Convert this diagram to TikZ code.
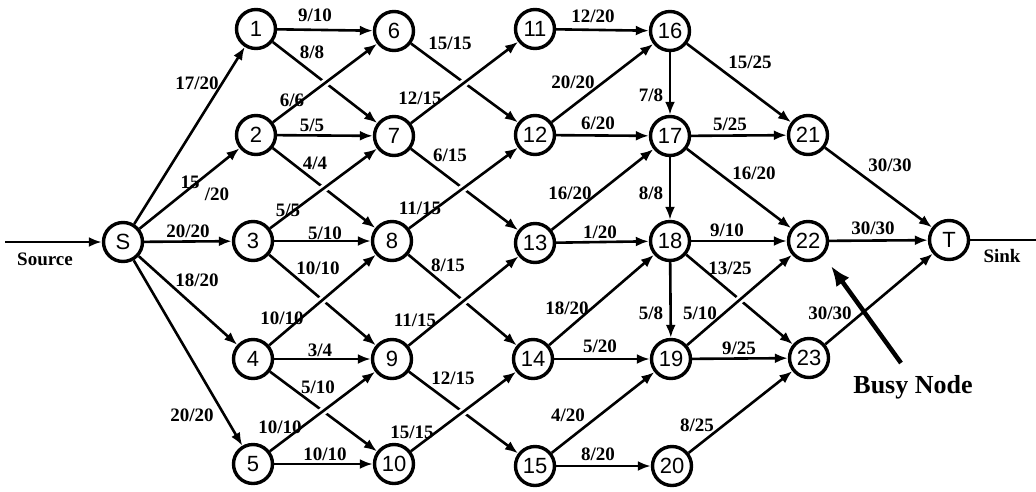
\documentclass[tikz,border=0pt]{standalone}
\usepackage{fontspec}
\setmainfont{Liberation Serif}
\setsansfont{Liberation Sans}
\usetikzlibrary{arrows.meta}

\tikzset{
  vtx/.style={circle, draw, line width=3.4pt, minimum size=39pt, inner sep=0pt,
    font=\sffamily\fontsize{22}{22}\selectfont},
  edge/.style={line width=2.6pt, -{Latex[length=13pt,width=10pt]}},
  over/.style={preaction={draw=white, line width=8pt, -, shorten <=16pt, shorten >=16pt}},
  flow/.style={font=\bfseries\fontsize{19}{19}\selectfont, inner sep=0pt},
}

\begin{document}
\begin{tikzpicture}[x=1pt, y=-1pt]
\useasboundingbox (0,0) rectangle (1036,491);
% vertices
\node[vtx] (s) at (123,242) {S};
\node[vtx] (n1) at (256,29) {1};
\node[vtx] (n2) at (256,135) {2};
\node[vtx] (n3) at (253,241) {3};
\node[vtx] (n4) at (253,359) {4};
\node[vtx] (n5) at (253,464) {5};
\node[vtx] (n6) at (394,31) {6};
\node[vtx] (n7) at (394,136) {7};
\node[vtx] (n8) at (392,241) {8};
\node[vtx] (n9) at (392,359) {9};
\node[vtx] (n10) at (394,464) {10};
\node[vtx] (n11) at (535,29) {11};
\node[vtx] (n12) at (535,135) {12};
\node[vtx] (n13) at (535,243) {13};
\node[vtx] (n14) at (533,359) {14};
\node[vtx] (n15) at (535,466) {15};
\node[vtx] (n16) at (670,31) {16};
\node[vtx] (n17) at (670,136) {17};
\node[vtx] (n18) at (670,241) {18};
\node[vtx] (n19) at (671,359) {19};
\node[vtx] (n20) at (672,466) {20};
\node[vtx] (n21) at (808,135) {21};
\node[vtx] (n22) at (808,241) {22};
\node[vtx] (n23) at (809,358) {23};
\node[vtx] (t) at (949,240) {T};
% source and sink
\coordinate (src) at (5,242);
\coordinate (snk) at (1036,240);
\draw[edge] (src) -- (s);
\draw[line width=2.6pt] (t) -- (snk);
\node[flow] (lsrc) at (45,259) {Source};
\node[flow] (lsnk) at (1002,256) {Sink};
% S to first column
\draw[edge] (s) -- (n1);
\draw[edge] (s) -- (n2);
\draw[edge] (s) -- (n3);
\draw[edge] (s) -- (n4);
\draw[edge] (s) -- (n5);
% straight and falling edges
\draw[edge] (n1) -- (n6);
\draw[edge] (n1) -- (n7);
\draw[edge] (n2) -- (n7);
\draw[edge] (n2) -- (n8);
\draw[edge] (n3) -- (n8);
\draw[edge] (n3) -- (n9);
\draw[edge] (n4) -- (n9);
\draw[edge] (n4) -- (n10);
\draw[edge] (n5) -- (n10);
\draw[edge] (n6) -- (n12);
\draw[edge] (n7) -- (n13);
\draw[edge] (n8) -- (n14);
\draw[edge] (n9) -- (n15);
\draw[edge] (n11) -- (n16);
\draw[edge] (n12) -- (n17);
\draw[edge] (n13) -- (n18);
\draw[edge] (n14) -- (n19);
\draw[edge] (n15) -- (n20);
\draw[edge] (n16) -- (n17);
\draw[edge] (n16) -- (n21);
\draw[edge] (n17) -- (n21);
\draw[edge] (n17) -- (n18);
\draw[edge] (n17) -- (n22);
\draw[edge] (n18) -- (n22);
\draw[edge] (n18) -- (n19);
\draw[edge] (n18) -- (n23);
\draw[edge] (n19) -- (n23);
\draw[edge] (n21) -- (t);
\draw[edge] (n22) -- (t);
% rising edges pass over the falling ones
\draw[edge, over] (n2) -- (n6);
\draw[edge, over] (n3) -- (n7);
\draw[edge, over] (n4) -- (n8);
\draw[edge, over] (n5) -- (n9);
\draw[edge, over] (n7) -- (n11);
\draw[edge, over] (n8) -- (n12);
\draw[edge, over] (n9) -- (n13);
\draw[edge, over] (n10) -- (n14);
\draw[edge] (n12) -- (n16);
\draw[edge] (n13) -- (n17);
\draw[edge] (n14) -- (n18);
\draw[edge] (n15) -- (n19);
\draw[edge, over] (n19) -- (n22);
\draw[edge] (n20) -- (n23);
\draw[edge] (n23) -- (t);
% flow / capacity
\node[flow] (f-s1) at (197,83) {17/20};
\node[flow] (f-s2a) at (190,182) {15};
\node[flow] (f-s2b) at (217,194) {/20};
\node[flow] (f-s3) at (188,231) {20/20};
\node[flow] (f-s4) at (197,280) {18/20};
\node[flow] (f-s5) at (192,415) {20/20};
\node[flow] (f-1-6) at (315,15) {9/10};
\node[flow] (f-1-7) at (312,52) {8/8};
\node[flow] (f-2-6) at (292,100) {6/6};
\node[flow] (f-2-7) at (312,125) {5/5};
\node[flow] (f-2-8) at (315,163) {4/4};
\node[flow] (f-3-7) at (288,210) {5/5};
\node[flow] (f-3-8) at (325,233) {5/10};
\node[flow] (f-3-9) at (318,268) {10/10};
\node[flow] (f-4-8) at (282,318) {10/10};
\node[flow] (f-4-9) at (320,350) {3/4};
\node[flow] (f-4-10) at (318,387) {5/10};
\node[flow] (f-5-9) at (280,427) {10/10};
\node[flow] (f-5-10) at (325,454) {10/10};
\node[flow] (f-6-12) at (450,43) {15/15};
\node[flow] (f-7-11) at (420,98) {12/15};
\node[flow] (f-7-13) at (450,155) {6/15};
\node[flow] (f-8-12) at (420,208) {11/15};
\node[flow] (f-8-14) at (448,265) {8/15};
\node[flow] (f-9-13) at (415,320) {11/15};
\node[flow] (f-9-15) at (453,378) {12/15};
\node[flow] (f-10-14) at (412,432) {15/15};
\node[flow] (f-11-16) at (593,16) {12/20};
\node[flow] (f-12-16) at (573,82) {20/20};
\node[flow] (f-12-17) at (598,123) {6/20};
\node[flow] (f-13-17) at (570,193) {16/20};
\node[flow] (f-13-18) at (600,232) {1/20};
\node[flow] (f-14-18) at (567,308) {18/20};
\node[flow] (f-14-19) at (600,346) {5/20};
\node[flow] (f-15-19) at (568,415) {4/20};
\node[flow] (f-15-20) at (598,454) {8/20};
\node[flow] (f-16-17) at (651,95) {7/8};
\node[flow] (f-16-21) at (750,62) {15/25};
\node[flow] (f-17-21) at (730,124) {5/25};
\node[flow] (f-17-18) at (651,193) {8/8};
\node[flow] (f-17-22) at (754,173) {16/20};
\node[flow] (f-18-22) at (727,230) {9/10};
\node[flow] (f-18-23) at (730,268) {13/25};
\node[flow] (f-18-19) at (651,313) {5/8};
\node[flow] (f-19-22) at (700,313) {5/10};
\node[flow] (f-19-23) at (739,348) {9/25};
\node[flow] (f-20-23) at (697,425) {8/25};
\node[flow] (f-21-t) at (890,165) {30/30};
\node[flow] (f-22-t) at (873,228) {30/30};
\node[flow] (f-23-t) at (830,313) {30/30};
% busy node
\node[font=\bfseries\fontsize{26}{26}\selectfont, inner sep=0pt] (busy) at (913,387) {Busy Node};
\coordinate (busytip) at (831,266);
\draw[line width=4.5pt, -{Latex[length=20pt,width=16pt]}] (busy.north) ++(-12,-12) coordinate (busytail) -- (busytip);
\end{tikzpicture}
\end{document}
